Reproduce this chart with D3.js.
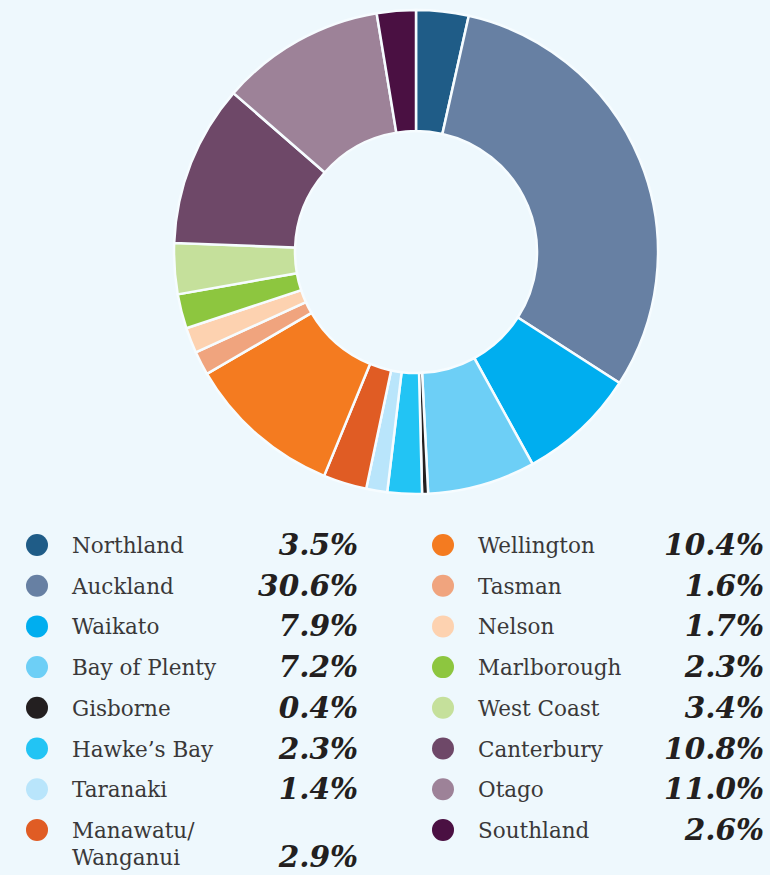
<!DOCTYPE html>
<html>
<head>
<meta charset="utf-8">
<script src="https://cdn.jsdelivr.net/npm/d3@7"></script>
<style>
  html, body { margin: 0; padding: 0; background: #EEF8FD; }
  svg { display: block; }
</style>
</head>
<body>
<script>
// regions clockwise from 12 o'clock
var regions = ['Northland', 'Auckland', 'Waikato', 'Bay of Plenty', 'Gisborne', 'Hawke\u2019s Bay',
  'Taranaki', 'Manawatu/Wanganui', 'Wellington', 'Tasman', 'Nelson', 'Marlborough',
  'West Coast', 'Canterbury', 'Otago', 'Southland'];
var shares = [3.5, 30.6, 7.9, 7.2, 0.4, 2.3, 1.4, 2.9, 10.4, 1.6, 1.7, 2.3, 3.4, 10.8, 11.0, 2.6];
var colours = ['#1F5C87', '#6780A3', '#00AEEF', '#6DCFF6', '#231F20', '#22C4F4',
  '#B9E5FB', '#E05C24', '#F47B20', '#F0A47E', '#FDD2B0', '#8DC63F',
  '#C5E09B', '#6E4868', '#9D8298', '#4A1042'];

var width = 770, height = 875;
var cx = 416, cy = 252, outerR = 242, innerR = 121;

var svg = d3.select('body').append('svg').attr('width', width).attr('height', height);

var data = regions.map(function (r, i) { return { name: r, value: shares[i], colour: colours[i] }; });

var pie = d3.pie().sort(null).value(function (d) { return d.value; });
var arc = d3.arc().innerRadius(innerR).outerRadius(outerR);

svg.append('g')
   .attr('transform', 'translate(' + cx + ',' + cy + ')')
   .selectAll('path')
   .data(pie(data))
   .enter()
   .append('path')
   .attr('d', arc)
   .attr('fill', function (d) { return d.data.colour; })
   .attr('stroke', '#F6FCFF')
   .attr('stroke-width', 2.5);

// legend, two columns of eight
var rowY = d3.scaleLinear().domain([0, 1]).range([545, 585.7]);
var cols = [{ dot: 37, label: 72, value: 358 }, { dot: 443, label: 478, value: 764 }];

var items = svg.append('g').selectAll('g')
   .data(data)
   .enter()
   .append('g')
   .attr('transform', function (d, i) {
      return 'translate(0,' + rowY(i % 8) + ')';
   });

items.append('circle')
   .attr('cx', function (d, i) { return cols[Math.floor(i / 8)].dot; })
   .attr('cy', 0)
   .attr('r', 11)
   .attr('fill', function (d) { return d.colour; });

items.append('text')
   .attr('x', function (d, i) { return cols[Math.floor(i / 8)].label; })
   .attr('y', 8)
   .attr('font-family', 'DejaVu Serif')
   .attr('font-size', 21.5)
   .attr('fill', '#3A3839')
   .each(function (d) {
      var parts = d.name.split('/');
      var t = d3.select(this);
      if (parts.length > 1) {
        t.append('tspan').text(parts[0] + '/');
        t.append('tspan').attr('x', t.attr('x')).attr('dy', 27).text(parts[1]);
      } else {
        t.text(d.name);
      }
   });

items.append('text')
   .attr('x', function (d, i) { return cols[Math.floor(i / 8)].value; })
   .attr('y', function (d) { return d.name.indexOf('/') > -1 ? 37 : 10; })
   .attr('text-anchor', 'end')
   .attr('font-family', 'DejaVu Serif')
   .attr('font-weight', 'bold')
   .attr('font-style', 'italic')
   .attr('font-size', 29.5)
   .attr('fill', '#231F20')
   .text(function (d) { return d.value.toFixed(1) + '%'; });
</script>
</body>
</html>
